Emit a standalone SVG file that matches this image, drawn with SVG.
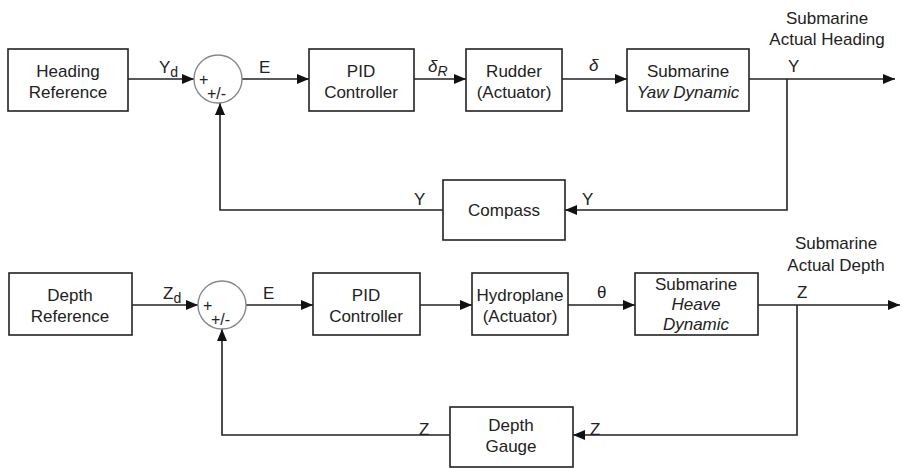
<svg xmlns="http://www.w3.org/2000/svg" width="902" height="468" viewBox="0 0 902 468">
<style>
.box{fill:#fff;stroke:#222;stroke-width:1.6}
.sum{fill:#fff;stroke:#888;stroke-width:1.4}
.ln{fill:none;stroke:#222;stroke-width:1.6}
text{font-family:"Liberation Sans",Arial,sans-serif;font-size:17px;fill:#222}
.c{text-anchor:middle}
.s{font-size:14px}
.p{font-size:16px}
.i{font-style:italic}
</style>
<defs>
<marker id="ah" viewBox="0 0 12 10" refX="12" refY="5" markerWidth="12" markerHeight="10" markerUnits="userSpaceOnUse" orient="auto">
<path d="M0,0 L12,5 L0,10 z" fill="#111"/>
</marker>
</defs>
<rect width="902" height="468" fill="#fff"/>
<g id="connectors">
<line class="ln" x1="128" y1="79" x2="194" y2="79" marker-end="url(#ah)"/>
<line class="ln" x1="242" y1="79" x2="309" y2="79" marker-end="url(#ah)"/>
<line class="ln" x1="414" y1="79" x2="466" y2="79" marker-end="url(#ah)"/>
<line class="ln" x1="562" y1="79" x2="627" y2="79" marker-end="url(#ah)"/>
<line class="ln" x1="749" y1="79" x2="895" y2="79" marker-end="url(#ah)"/>
<polyline class="ln" points="787,79 787,210 565,210" marker-end="url(#ah)"/>
<polyline class="ln" points="443,210 220,210 220,103" marker-end="url(#ah)"/>
<line class="ln" x1="132" y1="305" x2="198" y2="305" marker-end="url(#ah)"/>
<line class="ln" x1="246" y1="305" x2="313" y2="305" marker-end="url(#ah)"/>
<line class="ln" x1="420" y1="305" x2="472" y2="305" marker-end="url(#ah)"/>
<line class="ln" x1="568" y1="305" x2="635" y2="305" marker-end="url(#ah)"/>
<line class="ln" x1="758" y1="305" x2="900" y2="305" marker-end="url(#ah)"/>
<polyline class="ln" points="797,305 797,435 573,435" marker-end="url(#ah)"/>
<polyline class="ln" points="450,435 222,435 222,329" marker-end="url(#ah)"/>
<text x="159" y="73">Y<tspan class="s" dy="4">d</tspan></text>
<text x="259" y="73">E</text>
<text x="428" y="72" class="i">δ<tspan class="s" dy="4">R</tspan></text>
<text x="589" y="71" class="i">δ</text>
<text x="788" y="72">Y</text>
<text x="827" y="24" class="c">Submarine</text>
<text x="827" y="45" class="c">Actual Heading</text>
<text x="414" y="205">Y</text>
<text x="582" y="205">Y</text>
<text x="163" y="299">Z<tspan class="s" dy="4">d</tspan></text>
<text x="263" y="299">E</text>
<text x="597" y="298">θ</text>
<text x="797" y="298">Z</text>
<text x="836" y="249" class="c">Submarine</text>
<text x="836" y="271" class="c">Actual Depth</text>
<text x="419" y="435">Z</text>
<text x="590" y="435">Z</text>
</g>
<g id="heading-ref"><rect class="box" x="8" y="49" width="120" height="62"/><text x="68" y="77" class="c">Heading</text><text x="68" y="98" class="c">Reference</text></g>
<g id="sum1"><circle class="sum" cx="218" cy="79" r="24"/><text x="199" y="85" class="p">+</text><text x="207" y="99" class="p">+/-</text></g>
<g id="pid1"><rect class="box" x="309" y="49" width="105" height="62"/><text x="361" y="77" class="c">PID</text><text x="361" y="98" class="c">Controller</text></g>
<g id="rudder"><rect class="box" x="466" y="49" width="96" height="62"/><text x="514" y="77" class="c">Rudder</text><text x="514" y="98" class="c">(Actuator)</text></g>
<g id="yaw"><rect class="box" x="627" y="49" width="122" height="62"/><text x="688" y="77" class="c">Submarine</text><text x="688" y="98" class="c i">Yaw Dynamic</text></g>
<g id="compass"><rect class="box" x="443" y="180" width="122" height="60"/><text x="504" y="216" class="c">Compass</text></g>
<g id="depth-ref"><rect class="box" x="9" y="273" width="123" height="62"/><text x="70" y="301" class="c">Depth</text><text x="70" y="322" class="c">Reference</text></g>
<g id="sum2"><circle class="sum" cx="222" cy="305" r="24"/><text x="203" y="311" class="p">+</text><text x="211" y="325" class="p">+/-</text></g>
<g id="pid2"><rect class="box" x="313" y="273" width="107" height="62"/><text x="366" y="301" class="c">PID</text><text x="366" y="322" class="c">Controller</text></g>
<g id="hydroplane"><rect class="box" x="472" y="273" width="96" height="62"/><text x="520" y="301" class="c">Hydroplane</text><text x="520" y="322" class="c">(Actuator)</text></g>
<g id="heave"><rect class="box" x="635" y="273" width="123" height="62"/><text x="696" y="290" class="c">Submarine</text><text x="696" y="310" class="c i">Heave</text><text x="696" y="330" class="c i">Dynamic</text></g>
<g id="depth-gauge"><rect class="box" x="450" y="407" width="123" height="60"/><text x="511" y="431" class="c">Depth</text><text x="511" y="452" class="c">Gauge</text></g>
</svg>
